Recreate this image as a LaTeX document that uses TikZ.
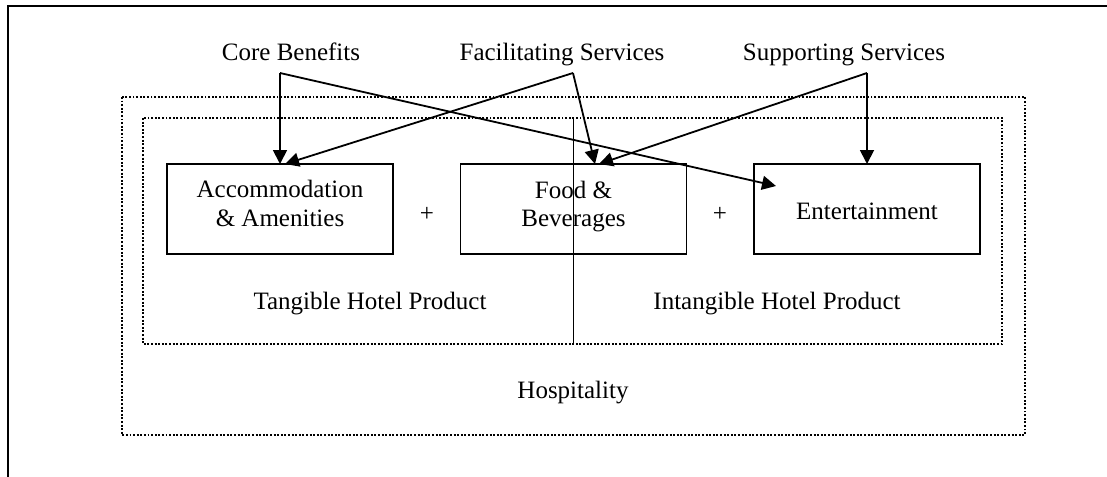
\documentclass[tikz,border=0pt]{standalone}
\usepackage{fontspec}
\setmainfont{Liberation Serif}
\usetikzlibrary{arrows.meta}
\begin{document}
\begin{tikzpicture}[x=1pt,y=-1pt,
  lbl/.style={inner sep=0pt,anchor=base,font=\fontsize{25}{29}\selectfont},
  prodbox/.style={draw,line width=1.8pt,minimum width=226pt,minimum height=90pt,inner sep=0pt},
  dotbox/.style={draw,line width=1.4pt,dash pattern=on 1.9pt off 1.7pt},
  arr/.style={line width=1.8pt,-{Triangle[length=14pt,width=14pt]}}]
\clip (0,0) rectangle (1107,476);
% outer frame
\draw[line width=2.6pt] (1120,6) -- (8,6) -- (8,490);
% dotted regions
\draw[dotbox] (122,97) rectangle (1025,435);
\draw[dotbox] (143,118) rectangle (1002,344);
\draw[line width=1pt] (573,118) -- (573,344);
% product boxes
\node[prodbox] (acc) at (280,209) {};
\node[prodbox] (fb) at (573.5,209) {};
\node[prodbox] (ent) at (867,209) {};
\node[lbl] (acc1) at (280,197) {Accommodation};
\node[lbl] (acc2) at (280,226) {\& Amenities};
\node[lbl] (fb1) at (573.5,198) {Food \&};
\node[lbl] (fb2) at (573.5,226) {Beverages};
\node[lbl] (ent1) at (867,219) {Entertainment};
\node[lbl] (p1) at (427,221) {+};
\node[lbl] (p2) at (720,221) {+};
% region labels
\node[lbl] (tang) at (370,309) {Tangible Hotel Product};
\node[lbl] (intang) at (777,309) {Intangible Hotel Product};
\node[lbl] (hosp) at (573,398) {Hospitality};
% top labels
\node[lbl] (core) at (291,61) {Core Benefits};
\node[lbl] (fac) at (562,61) {Facilitating Services};
\node[lbl] (sup) at (844,61) {Supporting Services};
% arrow origins
\coordinate (cb) at (280,73);
\coordinate (fs) at (573,73);
\coordinate (ss) at (867,73);
% arrow targets
\coordinate (accA) at (280,164);
\coordinate (accB) at (285,164);
\coordinate (fbA) at (595,164);
\coordinate (fbB) at (599,164);
\coordinate (entA) at (776,186);
\coordinate (entB) at (867,164);
\draw[arr] (cb) -- (accA);
\draw[arr] (cb) -- (entA);
\draw[arr] (fs) -- (accB);
\draw[arr] (fs) -- (fbA);
\draw[arr] (ss) -- (fbB);
\draw[arr] (ss) -- (entB);
\end{tikzpicture}
\end{document}
